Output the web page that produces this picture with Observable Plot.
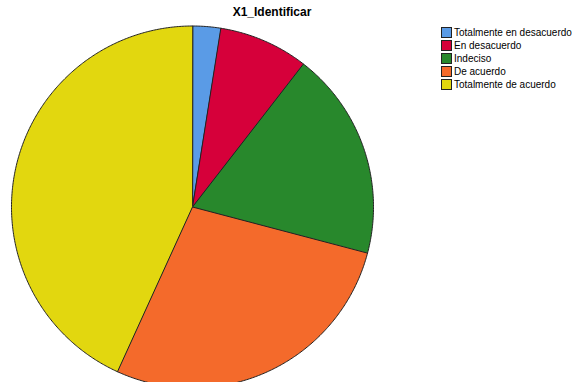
<!DOCTYPE html>
<html>
<head>
<meta charset="utf-8">
<script src="https://cdn.jsdelivr.net/npm/d3@7"></script>
<script src="https://cdn.jsdelivr.net/npm/@observablehq/plot@0.6"></script>
<style>
  html, body { margin: 0; padding: 0; background: #fff; }
  #wrap { position: relative; width: 572px; height: 382px; overflow: hidden; font-family: "Liberation Sans", Arial, sans-serif; }
  #title { position: absolute; left: 0; width: 544px; top: 5px; text-align: center; font-weight: bold; font-size: 12px; color: #000; }
  #legend { position: absolute; left: 441px; top: 26px; font-size: 10px; color: #000; }
  .row { height: 13px; line-height: 12px; display: flex; align-items: center; white-space: nowrap; }
  .sw { width: 9px; height: 9px; border: 1px solid #222; margin-right: 2px; box-sizing: content-box; }
</style>
</head>
<body>
<div id="wrap">
  <div id="chart"></div>
  <div id="title">X1_Identificar</div>
  <div id="legend"></div>
</div>
<script>
const categories = ["Totalmente en desacuerdo", "En desacuerdo", "Indeciso", "De acuerdo", "Totalmente de acuerdo"];
const percents = [2.5, 8.0, 18.6, 27.7, 43.2];
const colors = ["#5a9be6", "#d6003a", "#28882c", "#f46a2b", "#e2d70f"];

const arcs = d3.pie().sort(null).value(d => d)(percents);
const pts = [];
arcs.forEach((a, i) => {
  const cat = categories[i];
  pts.push({cat, x: 0, y: 0});
  const n = Math.max(2, Math.ceil((a.endAngle - a.startAngle) / (Math.PI / 360)));
  for (let k = 0; k <= n; k++) {
    const t = a.startAngle + (a.endAngle - a.startAngle) * k / n;
    pts.push({cat, x: Math.sin(t), y: Math.cos(t)});
  }
});

const cx = 192, cy = 206.5, r = 181;
const chart = Plot.plot({
  width: 572,
  height: 382,
  margin: 0,
  x: {domain: [-1, 1], range: [cx - r, cx + r], axis: null},
  y: {domain: [-1, 1], range: [cy + r, cy - r], axis: null},
  color: {domain: categories, range: colors},
  marks: [
    Plot.line(pts, {x: "x", y: "y", z: "cat", fill: "cat", stroke: "#222", strokeWidth: 1, curve: "linear-closed"})
  ]
});
document.getElementById("chart").appendChild(chart);

const legend = document.getElementById("legend");
categories.forEach((c, i) => {
  const row = document.createElement("div");
  row.className = "row";
  const sw = document.createElement("span");
  sw.className = "sw";
  sw.style.background = colors[i];
  const t = document.createElement("span");
  t.textContent = c;
  row.appendChild(sw);
  row.appendChild(t);
  legend.appendChild(row);
});
</script>
</body>
</html>
